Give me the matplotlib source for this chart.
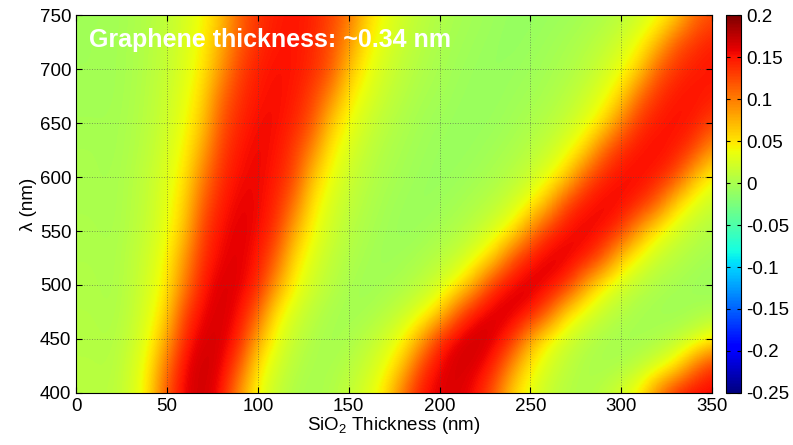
import numpy as np
import matplotlib
matplotlib.use('Agg')
import matplotlib.pyplot as plt

plt.rcParams['font.family'] = ['Liberation Sans', 'DejaVu Sans']

# SiO2 thickness (nm) and wavelength (nm) sample points
thickness = [0, 10, 20, 30, 40, 50, 60, 70, 80, 90, 100, 110, 120, 130, 140, 150, 160, 170,
             180, 190, 200, 210, 220, 230, 240, 250, 260, 270, 280, 290, 300, 310, 320, 330, 340, 350]
wavelength = [400, 425, 450, 475, 500, 525, 550, 575, 600, 625, 650, 675, 700, 725, 750]

# optical contrast, one row per wavelength
c400 = [.008, .008, .008, .022, .05, .12, .161, .169, .152, .088, .038, .015, .003, -.002, .004, .013, .027, .05,
        .105, .149, .162, .164, .151, .116, .059, .032, .015, .006, .002, .01, .025, .047, .1, .142, .157, .157]
c425 = [.007, .007, .006, .02, .044, .105, .157, .17, .161, .118, .05, .024, .008, 0.0, 0.0, .007, .018, .035,
        .067, .128, .158, .167, .163, .143, .09, .045, .024, .011, .002, -.001, .002, .011, .025, .048, .1, .14]
c450 = [.006, .006, .004, .015, .035, .079, .143, .165, .165, .143, .079, .035, .015, .004, -.003, .001, .009, .021,
        .04, .079, .137, .162, .17, .162, .137, .079, .04, .021, .009, .001, -.003, -.003, .001, .009, .021, .04]
c475 = [.005, .005, .002, .012, .029, .059, .128, .157, .166, .154, .114, .05, .025, .01, .001, -.004, -.001, .006,
        .016, .032, .057, .114, .152, .165, .165, .152, .114, .057, .032, .016, .006, -.001, -.004, -.006, -.002, .002]
c500 = [.004, .004, .001, .01, .024, .048, .1, .149, .164, .161, .142, .088, .042, .021, .008, 0.0, -.005, -.002,
        .002, .01, .023, .043, .083, .137, .158, .165, .158, .137, .083, .043, .023, .01, .002, -.002, -.006, -.009]
c525 = [.003, .003, .001, .009, .021, .042, .088, .138, .158, .162, .149, .114, .055, .029, .013, .004, -.002, -.006,
        -.003, .001, .008, .017, .035, .062, .118, .148, .162, .162, .148, .118, .062, .035, .017, .008, .001, -.003]
c550 = [.002, .002, 0.0, .007, .017, .035, .067, .13, .153, .162, .155, .134, .079, .04, .02, .008, .001, -.004,
        -.008, -.005, -.001, .004, .013, .027, .047, .095, .135, .153, .16, .152, .13, .081, .043, .024, .011, .003]
c575 = [.001, .001, -.001, .006, .015, .032, .059, .116, .146, .159, .157, .142, .105, .05, .027, .013, .004, -.002,
        -.006, -.009, -.006, -.002, .003, .01, .022, .041, .075, .128, .148, .158, .155, .14, .112, .057, .032, .017]
c600 = [0.0, 0.0, -.001, .005, .014, .028, .05, .1, .138, .154, .157, .147, .126, .067, .036, .019, .008, .001,
        -.003, -.007, -.009, -.007, -.003, .001, .008, .018, .035, .062, .116, .141, .153, .155, .144, .124, .071, .039]
c625 = [0.0, 0.0, -.002, .003, .011, .024, .043, .081, .13, .149, .157, .151, .132, .095, .047, .027, .013, .004,
        -.001, -.005, -.008, -.009, -.007, -.003, .001, .008, .017, .033, .057, .11, .138, .15, .155, .146, .128, .085]
c650 = [-.002, -.002, -.002, .002, .009, .02, .037, .065, .12, .142, .154, .154, .142, .12, .065, .037, .02, .009,
        .002, -.003, -.006, -.009, -.009, -.007, -.003, .001, .007, .016, .031, .052, .1, .135, .148, .153, .146, .128]
c675 = [-.003, -.003, -.003, .001, .008, .018, .033, .057, .108, .136, .149, .154, .147, .129, .095, .05, .03, .016,
        .007, 0.0, -.003, -.007, -.009, -.009, -.006, -.003, .001, .008, .018, .033, .057, .108, .136, .148, .152, .145]
c700 = [-.004, -.004, -.003, 0.0, .007, .015, .029, .048, .088, .128, .145, .152, .15, .139, .12, .069, .039, .022,
        .011, .004, -.001, -.005, -.008, -.01, -.008, -.006, -.002, .002, .009, .02, .035, .06, .113, .135, .146, .15]
c725 = [-.004, -.004, -.003, 0.0, .006, .014, .026, .044, .077, .116, .138, .149, .15, .141, .122, .088, .048, .029,
        .016, .007, .001, -.003, -.006, -.009, -.011, -.008, -.005, -.001, .004, .011, .022, .039, .069, .115, .133, .145]
c750 = [-.004, -.004, -.004, 0.0, .005, .012, .024, .04, .067, .112, .134, .145, .15, .144, .128, .105, .06, .036,
        .021, .011, .004, -.001, -.004, -.007, -.01, -.011, -.008, -.006, -.002, .002, .009, .019, .034, .057, .104, .122]

contrast = np.array([c400, c425, c450, c475, c500, c525, c550, c575,
                     c600, c625, c650, c675, c700, c725, c750])

cbar_ticks = [0.2, 0.15, 0.1, 0.05, 0, -0.05, -0.1, -0.15, -0.2, -0.25]
cbar_labels = ['0.2', '0.15', '0.1', '0.05', '0', '-0.05', '-0.1', '-0.15', '-0.2', '-0.25']

fig = plt.figure(figsize=(7.93, 4.45), dpi=100)
ax = fig.add_axes([0.096, 0.117, 0.802, 0.849])
cax = fig.add_axes([0.9155, 0.117, 0.019, 0.849])

# half a sample step beyond the first / last sample so that pixel centres sit on the samples
dx = (thickness[1] - thickness[0]) / 2
dy = (wavelength[1] - wavelength[0]) / 2
img = ax.imshow(contrast, origin='lower', aspect='auto', cmap='jet', vmin=-0.25, vmax=0.2,
                interpolation='bicubic',
                extent=[thickness[0] - dx, thickness[-1] + dx, wavelength[0] - dy, wavelength[-1] + dy])

ax.set_xlim(0, 350)
ax.set_ylim(400, 750)
ax.set_xticks(range(0, 351, 50))
ax.set_yticks(range(400, 751, 50))
ax.tick_params(direction='in', top=True, right=True, labelsize=13.5, length=4)
ax.grid(True, linestyle=':', color='0.3', linewidth=0.7, alpha=0.55)

ax.set_xlabel('SiO$_\\mathregular{2}$ Thickness (nm)', fontsize=13.5, labelpad=0)
ax.set_ylabel('λ (nm)', fontsize=13.5, labelpad=2)

ax.text(0.021, 0.935, 'Graphene thickness: ~0.34 nm', transform=ax.transAxes,
        color='white', fontsize=18, fontweight='bold', va='center', ha='left')

cb = fig.colorbar(img, cax=cax, ticks=cbar_ticks)
cb.ax.set_yticklabels(cbar_labels)
cb.ax.tick_params(direction='in', labelsize=13.5, length=3, left=True)
cb.outline.set_linewidth(0.8)

fig.savefig('out.png', dpi=100)
